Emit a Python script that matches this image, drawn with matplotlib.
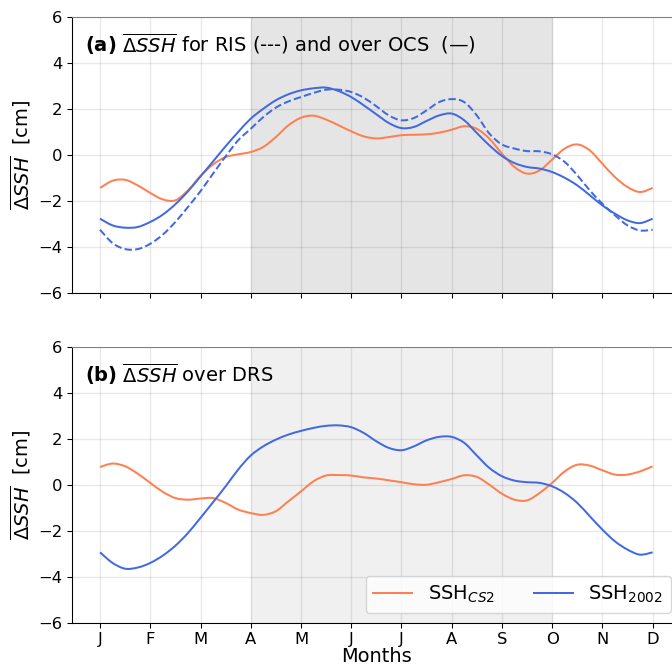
##############################################
### Raw data

import numpy as np
import matplotlib
matplotlib.use('Agg')
import matplotlib.pyplot as plt
from matplotlib.path import Path
from matplotlib.patches import PathPatch

# months, read every quarter month off the figure
meses = ['J', 'F', 'M', 'A', 'M', 'J', 'J', 'A', 'S', 'O', 'N', 'D']
x = np.arange(0, 11.01, 0.25)

# (a) OCS (solid) and RIS (dashed)
cs2_ocs = [-1.43, -1.12, -1.08, -1.32, -1.65, -1.93, -1.97, -1.54, -0.91, -0.41, -0.09, 0.03,
           0.13, 0.35, 0.78, 1.29, 1.62, 1.71, 1.54, 1.29, 1.03, 0.81, 0.72, 0.78,
           0.86, 0.88, 0.90, 0.97, 1.10, 1.25, 1.14, 0.71, 0.06, -0.52, -0.81, -0.67,
           -0.20, 0.28, 0.46, 0.20, -0.38, -0.96, -1.39, -1.61, -1.43]
y2002_ocs = [-2.77, -3.06, -3.16, -3.13, -2.91, -2.59, -2.14, -1.58, -0.93, -0.28, 0.38, 1.00,
             1.58, 2.01, 2.38, 2.64, 2.81, 2.90, 2.93, 2.78, 2.52, 2.16, 1.77, 1.39,
             1.17, 1.22, 1.48, 1.72, 1.80, 1.51, 0.96, 0.42, -0.04, -0.35, -0.52, -0.59,
             -0.74, -0.99, -1.32, -1.75, -2.19, -2.55, -2.84, -2.96, -2.77]
y2002_ris = [-3.25, -3.83, -4.09, -4.09, -3.86, -3.46, -2.91, -2.26, -1.57, -0.81, -0.06, 0.64,
             1.14, 1.65, 2.06, 2.33, 2.52, 2.70, 2.84, 2.84, 2.74, 2.49, 2.12, 1.72,
             1.51, 1.61, 1.94, 2.30, 2.43, 2.30, 1.72, 0.93, 0.46, 0.28, 0.17, 0.16,
             0.03, -0.30, -0.88, -1.54, -2.12, -2.62, -3.06, -3.28, -3.25]

# (b) DRS
cs2_drs = [0.78, 0.93, 0.81, 0.49, 0.09, -0.30, -0.57, -0.64, -0.59, -0.57, -0.78, -1.07,
           -1.22, -1.30, -1.14, -0.71, -0.28, 0.16, 0.41, 0.43, 0.41, 0.33, 0.28, 0.20,
           0.12, 0.03, 0.01, 0.12, 0.26, 0.42, 0.35, 0.01, -0.38, -0.64, -0.67, -0.35,
           0.09, 0.59, 0.88, 0.84, 0.64, 0.45, 0.45, 0.59, 0.81]
y2002_drs = [-2.93, -3.39, -3.64, -3.59, -3.39, -3.07, -2.64, -2.09, -1.43, -0.75, -0.06, 0.67,
             1.28, 1.68, 1.97, 2.19, 2.35, 2.48, 2.57, 2.59, 2.51, 2.26, 1.90, 1.61,
             1.51, 1.68, 1.94, 2.09, 2.09, 1.83, 1.28, 0.74, 0.38, 0.19, 0.12, 0.09,
             -0.06, -0.35, -0.78, -1.36, -1.94, -2.45, -2.81, -3.03, -2.93]

c_cs2 = 'coral'
c_2002 = 'royalblue'


def curva(ax, xs, ys, **kw):
    # smooth line through the read points (Catmull-Rom drawn as bezier path)
    p = np.column_stack([xs, ys]).astype(float)
    ext = np.vstack([p[0], p, p[-1]])
    verts = [p[0]]
    codes = [Path.MOVETO]
    for i in range(len(p) - 1):
        p0, p1, p2, p3 = ext[i], ext[i + 1], ext[i + 2], ext[i + 3]
        verts += [p1 + (p2 - p0) / 6., p2 - (p3 - p1) / 6., p2]
        codes += [Path.CURVE4] * 3
    ax.add_patch(PathPatch(Path(verts, codes), fill=False, **kw))


###############################################
### Espacio de dibujo

fig = plt.figure(figsize=(7.0, 669/96.), dpi=96)
ax1 = fig.add_axes([0.107, 0.562, 0.906, 0.4126])
ax2 = fig.add_axes([0.107, 0.0688, 0.906, 0.4126])

ax1.axvspan(3, 9, color='#e5e5e5', zorder=0)
ax2.axvspan(3, 9, color='#f0f0f0', zorder=0)

curva(ax1, x, cs2_ocs, edgecolor=c_cs2, lw=1.5)
curva(ax1, x, y2002_ocs, edgecolor=c_2002, lw=1.5)
curva(ax1, x, y2002_ris, edgecolor=c_2002, lw=1.5, ls='--')

curva(ax2, x, cs2_drs, edgecolor=c_cs2, lw=1.5)
curva(ax2, x, y2002_drs, edgecolor=c_2002, lw=1.5)
ax2.plot([], [], color=c_cs2, lw=1.5, label=r'SSH$_{CS2}$')
ax2.plot([], [], color=c_2002, lw=1.5, label=r'SSH$_{2002}$')

for ax in (ax1, ax2):
    ax.set_xlim(-0.56, 11.56)
    ax.set_ylim(-6, 6)
    ax.set_yticks(np.arange(-6, 7, 2))
    ax.set_xticks(np.arange(12))
    ax.grid(True, color='k', alpha=0.09, lw=1)
    ax.set_axisbelow(True)
    ax.tick_params(labelsize=12.3)
    ax.spines['top'].set_color('gray')
    ax.spines['right'].set_color('gray')
    ax.set_ylabel(r'$\overline{\Delta SSH}$  [cm]', fontsize=14.6)

ax1.set_xticklabels([])
ax2.set_xticklabels(meses)
ax2.set_xlabel('Months', fontsize=14.5, labelpad=0)

###############################################
### Notas

ax1.text(0.022, 0.95, r'$\bf{(a)}$ $\overline{\Delta SSH}$ for RIS (---) and over OCS  (—)',
         transform=ax1.transAxes, fontsize=14.6, va='top')
ax2.text(0.022, 0.95, r'$\bf{(b)}$ $\overline{\Delta SSH}$ over DRS',
         transform=ax2.transAxes, fontsize=14.6, va='top')

ax2.legend(loc='lower right', ncol=2, fontsize=14.6)

###############################################
### Imprimir

fig.savefig('out.png', dpi=96)
